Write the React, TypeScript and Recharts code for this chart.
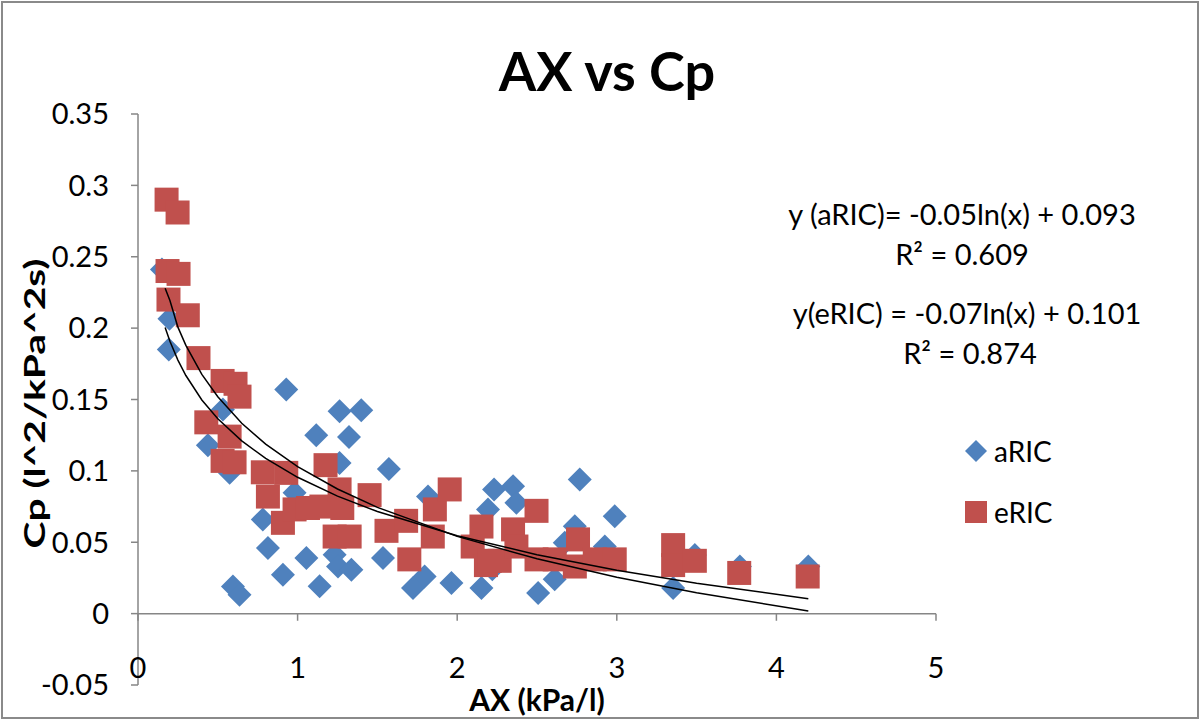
import React from 'react';
import { ScatterChart, Scatter, XAxis, YAxis, ReferenceLine, Legend } from 'recharts';

const FONT = "Lato, 'Open Sans', sans-serif";
const BLUE = '#4F81BD';
const RED = '#C0504D';
const AXIS = '#868686';

const X_TICKS = [0, 1, 2, 3, 4, 5];
const Y_TICKS = [-0.05, 0, 0.05, 0.1, 0.15, 0.2, 0.25, 0.3, 0.35];

const ARIC = [
  { x: 0.15, y: 0.241 }, { x: 0.197, y: 0.2065 }, { x: 0.193, y: 0.185 }, { x: 0.929, y: 0.157 },
  { x: 0.532, y: 0.143 }, { x: 1.117, y: 0.125 }, { x: 0.438, y: 0.118 }, { x: 0.574, y: 0.0986 },
  { x: 0.981, y: 0.0846 }, { x: 0.782, y: 0.0659 }, { x: 0.814, y: 0.046 }, { x: 1.055, y: 0.039 },
  { x: 0.908, y: 0.0273 }, { x: 1.138, y: 0.0191 }, { x: 0.595, y: 0.019 }, { x: 0.636, y: 0.0133 },
  { x: 1.263, y: 0.1418 }, { x: 1.399, y: 0.1425 }, { x: 1.322, y: 0.1238 }, { x: 1.263, y: 0.1056 },
  { x: 1.572, y: 0.1014 }, { x: 1.817, y: 0.082 }, { x: 2.231, y: 0.0869 }, { x: 2.193, y: 0.0729 },
  { x: 1.232, y: 0.0413 }, { x: 1.253, y: 0.033 }, { x: 1.337, y: 0.0308 }, { x: 1.535, y: 0.039 },
  { x: 1.796, y: 0.026 }, { x: 1.723, y: 0.018 }, { x: 1.964, y: 0.0215 }, { x: 2.152, y: 0.018 },
  { x: 2.768, y: 0.0939 }, { x: 2.35, y: 0.0892 }, { x: 2.371, y: 0.0776 }, { x: 2.987, y: 0.0682 },
  { x: 2.737, y: 0.0612 }, { x: 2.22, y: 0.031 }, { x: 2.507, y: 0.0145 }, { x: 2.611, y: 0.024 },
  { x: 2.674, y: 0.0497 }, { x: 2.925, y: 0.047 }, { x: 3.353, y: 0.018 }, { x: 3.489, y: 0.041 },
  { x: 3.771, y: 0.033 }, { x: 4.2, y: 0.033 },
];

const ERIC = [
  { x: 0.179, y: 0.29 }, { x: 0.248, y: 0.281 }, { x: 0.185, y: 0.24 }, { x: 0.254, y: 0.238 },
  { x: 0.191, y: 0.22 }, { x: 0.312, y: 0.209 }, { x: 0.379, y: 0.179 }, { x: 0.53, y: 0.163 },
  { x: 0.611, y: 0.161 }, { x: 0.636, y: 0.152 }, { x: 0.428, y: 0.134 }, { x: 0.574, y: 0.124 },
  { x: 0.53, y: 0.107 }, { x: 0.605, y: 0.106 }, { x: 0.782, y: 0.099 }, { x: 0.929, y: 0.0986 },
  { x: 0.814, y: 0.082 }, { x: 0.908, y: 0.0636 }, { x: 0.981, y: 0.073 }, { x: 1.065, y: 0.074 },
  { x: 1.149, y: 0.075 }, { x: 1.175, y: 0.104 }, { x: 1.263, y: 0.087 }, { x: 1.451, y: 0.083 },
  { x: 1.28, y: 0.074 }, { x: 1.232, y: 0.054 }, { x: 1.326, y: 0.054 }, { x: 1.557, y: 0.058 },
  { x: 1.68, y: 0.065 }, { x: 1.7, y: 0.038 }, { x: 1.86, y: 0.073 }, { x: 1.953, y: 0.087 },
  { x: 1.847, y: 0.054 }, { x: 2.097, y: 0.047 }, { x: 2.152, y: 0.061 }, { x: 2.18, y: 0.034 },
  { x: 2.35, y: 0.059 }, { x: 2.497, y: 0.072 }, { x: 2.204, y: 0.037 }, { x: 2.266, y: 0.037 },
  { x: 2.371, y: 0.047 }, { x: 2.497, y: 0.038 }, { x: 2.611, y: 0.038 }, { x: 2.757, y: 0.052 },
  { x: 2.737, y: 0.033 }, { x: 2.862, y: 0.038 }, { x: 2.987, y: 0.038 }, { x: 3.353, y: 0.048 },
  { x: 3.353, y: 0.034 }, { x: 3.489, y: 0.037 }, { x: 3.767, y: 0.0285 }, { x: 4.196, y: 0.026 },
];

// trend lines
const ARIC_TREND = [
  { x: 0.17, y: 0.2004 }, { x: 0.2, y: 0.1908 }, { x: 0.25, y: 0.1776 }, { x: 0.3, y: 0.1668 },
  { x: 0.4, y: 0.1497 }, { x: 0.5, y: 0.1365 }, { x: 0.65, y: 0.121 }, { x: 0.8, y: 0.1087 },
  { x: 1, y: 0.0955 }, { x: 1.25, y: 0.0823 }, { x: 1.5, y: 0.0715 }, { x: 2, y: 0.0545 },
  { x: 2.5, y: 0.0413 }, { x: 3, y: 0.0304 }, { x: 3.5, y: 0.0213 }, { x: 4.2, y: 0.0105 },
];
const ERIC_TREND = [
  { x: 0.17, y: 0.2279 }, { x: 0.2, y: 0.2194 }, { x: 0.25, y: 0.2007 }, { x: 0.3, y: 0.1879 },
  { x: 0.4, y: 0.1676 }, { x: 0.5, y: 0.1519 }, { x: 0.65, y: 0.1334 }, { x: 0.8, y: 0.1187 },
  { x: 1, y: 0.103 }, { x: 1.25, y: 0.0873 }, { x: 1.5, y: 0.0744 }, { x: 2, y: 0.0541 },
  { x: 2.5, y: 0.0384 }, { x: 3, y: 0.0255 }, { x: 3.5, y: 0.0147 }, { x: 4.2, y: 0.0018 },
];

const EQUATIONS = [
  { text: 'y (aRIC)= -0.05ln(x) + 0.093', cx: 962, cy: 213 },
  { text: 'R\u00b2 = 0.609', cx: 962, cy: 253 },
  { text: 'y(eRIC) = -0.07ln(x) + 0.101', cx: 967, cy: 312 },
  { text: 'R\u00b2 = 0.874', cx: 970, cy: 352 },
];

const Diamond = (props: any) => {
  const { cx, cy } = props;
  if (cx == null || cy == null) return <g />;
  const r = 12;
  return <polygon points={`${cx},${cy - r} ${cx + r},${cy} ${cx},${cy + r} ${cx - r},${cy}`} fill={BLUE} />;
};
const Square = (props: any) => {
  const { cx, cy } = props;
  if (cx == null || cy == null) return <g />;
  return <rect x={cx - 12} y={cy - 12} width={24} height={24} fill={RED} />;
};
const NoDot = () => <g />;

const XTick = (props: any) => {
  const { x, y, payload } = props;
  return (
    <text x={x} y={y} dy={-7} textAnchor="middle" fontSize={29} fontFamily={FONT} fill="#000">
      {payload.value}
    </text>
  );
};

const LegendContent = (props: any) => {
  const items = (props.payload || []).filter((p: any) => p.type !== 'none');
  return (
    <div style={{ position: 'absolute', left: 963, top: 430, fontFamily: FONT, fontSize: 28, color: '#000' }}>
      {items.map((it: any, i: number) => (
        <div key={i} style={{ display: 'flex', alignItems: 'center', height: 42, marginBottom: i === 0 ? 19 : 0, whiteSpace: 'nowrap' }}>
          <svg width={26} height={26} style={{ marginRight: 5 }}>
            {it.value === 'aRIC'
              ? <polygon points="13,2 24,13 13,24 2,13" fill={BLUE} />
              : <rect x={2} y={2} width={22} height={22} fill={RED} />}
          </svg>
          <span>{it.value}</span>
        </div>
      ))}
    </div>
  );
};

export default function App() {
  return (
    <div style={{ position: 'absolute', left: 0, top: 0, width: 1200, height: 720, background: '#fff', fontFamily: FONT }}>
      <ScatterChart width={1200} height={720} margin={{ top: 114, right: 264, bottom: 0, left: 38 }}>
        <XAxis
          type="number"
          dataKey="x"
          domain={[0, 5]}
          ticks={X_TICKS}
          axisLine={false}
          tickLine={false}
          tickSize={0}
          tickMargin={0}
          height={35}
          tick={<XTick />}
          interval={0}
          label={{
            content: (p: any) => {
              const vb = p.viewBox || { x: 138, y: 685, width: 798 };
              return (
                <text x={vb.x + vb.width / 2} y={vb.y + 26} textAnchor="middle" fontSize={30} fontWeight="bold" fontFamily={FONT} fill="#000">
                  AX (kPa/l)
                </text>
              );
            },
          }}
        />
        <YAxis
          type="number"
          dataKey="y"
          domain={[-0.05, 0.35]}
          ticks={Y_TICKS}
          width={100}
          interval={0}
          axisLine={{ stroke: AXIS, strokeWidth: 1.5 }}
          tickLine={{ stroke: AXIS, strokeWidth: 1.5 }}
          tickSize={7}
          tickMargin={22}
          tick={{ fontSize: 29, fill: '#000', fontFamily: FONT }}
          tickFormatter={(v: number) => String(v)}
          label={{
            content: (p: any) => {
              const vb = p.viewBox || { x: 38, y: 114, height: 571 };
              const cx = vb.x - 4;
              const cy = vb.y + vb.height / 2 + 4;
              return (
                <text x={cx} y={cy} transform={`rotate(-90 ${cx} ${cy})`} textAnchor="middle" dominantBaseline="central" fontSize={28} fontWeight="bold" fontFamily={FONT} fill="#000" textLength={290} lengthAdjust="spacingAndGlyphs">
                  Cp (l^2/kPa^2s)
                </text>
              );
            },
          }}
        />
        <ReferenceLine y={0} stroke={AXIS} strokeWidth={1.5} />
        {X_TICKS.map((t) => (
          <ReferenceLine key={t} segment={[{ x: t, y: 0 }, { x: t, y: -0.005 }]} stroke={AXIS} strokeWidth={1.5} />
        ))}
        <Scatter name="aRIC" data={ARIC} shape={<Diamond />} isAnimationActive={false} />
        <Scatter name="eRIC" data={ERIC} shape={<Square />} isAnimationActive={false} />
        <Scatter name="aRIC trend" data={ARIC_TREND} shape={<NoDot />} line={{ stroke: '#000', strokeWidth: 1.5 }} lineType="joint" legendType="none" isAnimationActive={false} />
        <Scatter name="eRIC trend" data={ERIC_TREND} shape={<NoDot />} line={{ stroke: '#000', strokeWidth: 1.5 }} lineType="joint" legendType="none" isAnimationActive={false} />
        <Legend content={<LegendContent />} wrapperStyle={{ left: 0, top: 0, width: 0, height: 0 }} />
      </ScatterChart>
      <div style={{ position: 'absolute', left: 607, top: 71, transform: 'translate(-50%, -50%)', fontSize: 54, fontWeight: 'bold', whiteSpace: 'nowrap', lineHeight: 1, color: '#000' }}>
        AX vs Cp
      </div>
      {EQUATIONS.map((e, i) => (
        <div key={i} style={{ position: 'absolute', left: e.cx, top: e.cy, transform: 'translate(-50%, -50%)', fontSize: 29, whiteSpace: 'nowrap', lineHeight: 1, color: '#000' }}>
          {e.text}
        </div>
      ))}
      <div style={{ position: 'absolute', left: 1, top: 1, width: 1198, height: 718, border: '2px solid #8a8a8a', boxSizing: 'border-box', pointerEvents: 'none' }} />
    </div>
  );
}
